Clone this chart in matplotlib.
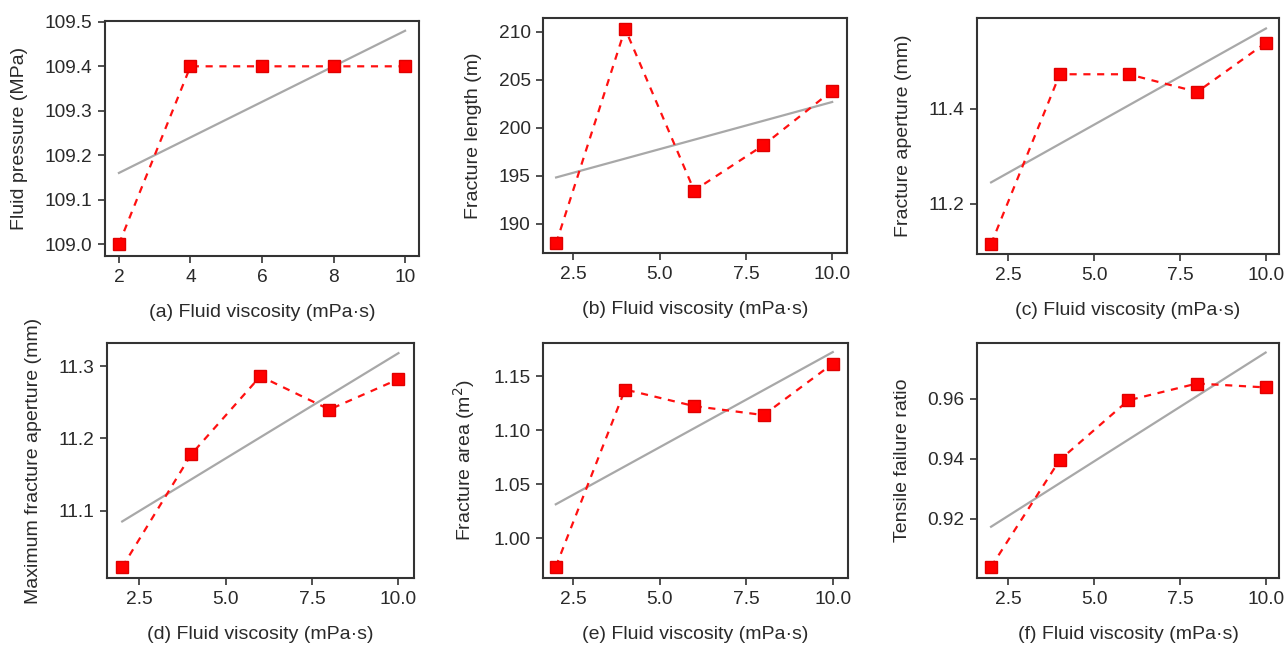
import numpy as np
import matplotlib
matplotlib.use('Agg')
import matplotlib.pyplot as plt
from matplotlib.ticker import FormatStrFormatter

plt.rcParams['font.family'] = ['Liberation Sans', 'DejaVu Sans']

viscosity = [2, 4, 6, 8, 10]

fluid_pressure = [109.0, 109.4, 109.4, 109.4, 109.4]
fracture_length = [187.95, 210.3, 193.45, 198.15, 203.85]
fracture_aperture = [11.116, 11.472, 11.472, 11.435, 11.538]
max_aperture = [11.022, 11.178, 11.286, 11.240, 11.282]
fracture_area = [0.9735, 1.1377, 1.1223, 1.1140, 1.1617]
tensile_ratio = [0.9039, 0.9395, 0.9594, 0.9650, 0.9637]

ylabels = ['Fluid pressure (MPa)', 'Fracture length (m)', 'Fracture aperture (mm)',
           'Maximum fracture aperture (mm)', 'Fracture area (m$^2$)', 'Tensile failure ratio']
xlabels = ['(a) Fluid viscosity (mPa\u00b7s)', '(b) Fluid viscosity (mPa\u00b7s)',
           '(c) Fluid viscosity (mPa\u00b7s)', '(d) Fluid viscosity (mPa\u00b7s)',
           '(e) Fluid viscosity (mPa\u00b7s)', '(f) Fluid viscosity (mPa\u00b7s)']
series = [fluid_pressure, fracture_length, fracture_aperture,
          max_aperture, fracture_area, tensile_ratio]

# axes boxes in pixels: left, top, right, bottom
W, H = 1285, 646
boxes = [(105, 21, 419, 256), (543, 18, 847, 253), (977, 18, 1279, 254),
         (107, 343, 414, 578), (543, 343, 848, 578), (977, 343, 1279, 578)]
xlims = [(1.61, 10.39), (1.62, 10.43), (1.59, 10.38),
         (1.56, 10.45), (1.63, 10.44), (1.59, 10.39)]
ylims = [(108.973, 109.502), (186.94, 211.42), (11.095, 11.59),
         (11.007, 11.332), (0.963, 1.1808), (0.9002, 0.9785)]
xticks = [[2, 4, 6, 8, 10]] + [[2.5, 5.0, 7.5, 10.0]] * 5
xfmt = ['%d'] + ['%.1f'] * 5
yticks = [[109.0, 109.1, 109.2, 109.3, 109.4, 109.5],
          [190, 195, 200, 205, 210],
          [11.2, 11.4],
          [11.1, 11.2, 11.3],
          [1.00, 1.05, 1.10, 1.15],
          [0.92, 0.94, 0.96]]
yfmt = ['%.1f', '%d', '%.1f', '%.1f', '%.2f', '%.2f']

text_color = '#2a2a2a'
fig = plt.figure(figsize=(W / 100, H / 100), dpi=100)

for i in range(6):
    l, t, r, b = boxes[i]
    ax = fig.add_axes([l / W, 1 - b / H, (r - l) / W, (b - t) / H])
    x = np.array(viscosity, dtype=float)
    y = np.array(series[i])

    # linear trend through the points
    k, c = np.polyfit(x, y, 1)
    ax.plot(x[[0, -1]], k * x[[0, -1]] + c, color='#a8a8a8', lw=1.6, zorder=2)
    ax.plot(x, y, color='#ff1010', ls=(0, (3.2, 3)), lw=1.6, zorder=3)
    ax.plot(x, y, ls='none', marker='s', ms=8.5, mfc='#ff0000', mec='#e00000', zorder=4)

    ax.set_xlim(*xlims[i])
    ax.set_ylim(*ylims[i])
    ax.set_xticks(xticks[i])
    ax.set_yticks(yticks[i])
    ax.xaxis.set_major_formatter(FormatStrFormatter(xfmt[i]))
    ax.yaxis.set_major_formatter(FormatStrFormatter(yfmt[i]))
    ax.tick_params(direction='out', length=5, width=1.2, colors='#333333',
                   labelsize=13.8, labelcolor=text_color, pad=4)
    for s in ax.spines.values():
        s.set_color('#333333')
        s.set_linewidth(1.5)
    ax.set_xlabel(xlabels[i], fontsize=14, color=text_color, labelpad=13)
    ax.set_ylabel(ylabels[i], fontsize=14, color=text_color, labelpad=12)

fig.savefig('out.png', dpi=100, facecolor='white')
